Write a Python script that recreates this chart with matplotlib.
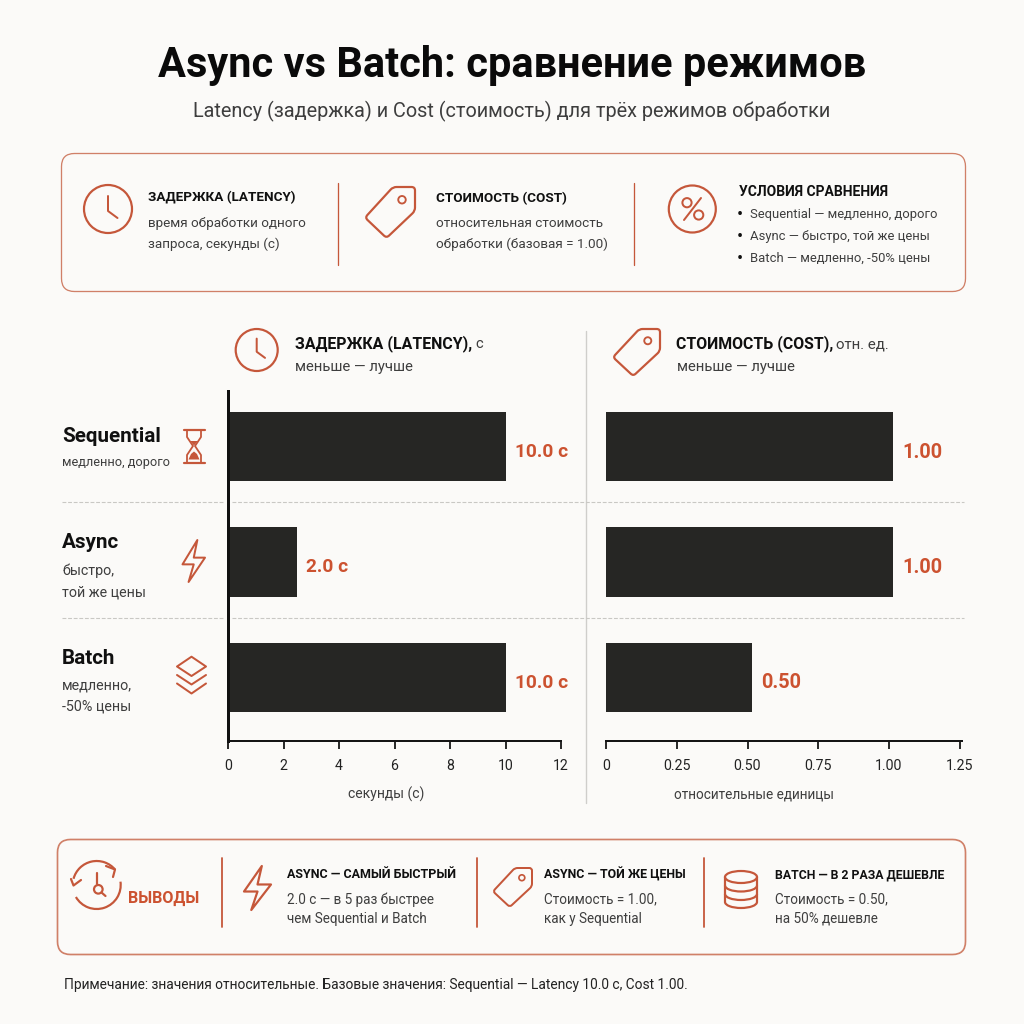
import numpy as np
import matplotlib
matplotlib.use("Agg")
import matplotlib.pyplot as plt
from matplotlib.patches import FancyBboxPatch, Circle, Ellipse, Polygon, Arc, PathPatch
from matplotlib.path import Path

# ---- data (bar lengths as drawn in the picture; printed labels are separate) ----
modes = ["Sequential", "Async", "Batch"]
mode_notes = [["медленно, дорого"], ["быстро,", "той же цены"], ["медленно,", "-50% цены"]]
latency_drawn = [10.02, 2.49, 10.02]
latency_labels = ["10.0 с", "2.0 с", "10.0 с"]
cost_drawn = [1.014, 1.014, 0.515]
cost_labels = ["1.00", "1.00", "0.50"]
latency_ticks = [0, 2, 4, 6, 8, 10, 12]
latency_ticklabels = ["0", "2", "4", "6", "8", "10", "12"]
cost_ticks = [0, 0.25, 0.50, 0.75, 1.00, 1.25]
cost_ticklabels = ["0", "0.25", "0.50", "0.75", "1.00", "1.25"]

BG = "#FBFAF8"
OR = "#C5573A"
ORT = "#CC5230"
PANEL = "#D08068"
BAR = "#262624"
INK = "#101010"
GREY = "#3E3E3E"
plt.rcParams["font.family"] = ["Roboto", "DejaVu Sans"]

fig = plt.figure(figsize=(10.24, 10.24), dpi=100, facecolor=BG)
bg = fig.add_axes([0, 0, 1, 1], zorder=0)
bg.set_xlim(0, 1024)
bg.set_ylim(1024, 0)
bg.axis("off")
PX = 0.72


def T(x, y, s, size, weight="normal", color=GREY, ha="left"):
    bg.text(x, y, s, fontsize=size, fontweight=weight, color=color, ha=ha, va="center_baseline")


def L(xs, ys, lw=2.0, color=OR, **kw):
    kw.setdefault("solid_capstyle", "round")
    kw.setdefault("solid_joinstyle", "round")
    bg.plot(xs, ys, color=color, lw=lw * PX, **kw)


def panel(x0, y0, x1, y1, lw):
    bg.add_patch(FancyBboxPatch((x0, y0), x1 - x0, y1 - y0,
                                boxstyle="round,pad=0,rounding_size=13",
                                fc="none", ec=PANEL, lw=lw * PX))


def clock(cx, cy, r):
    bg.add_patch(Circle((cx, cy), r, fc="none", ec=OR, lw=2.2 * PX))
    k = r / 24
    L([cx, cx, cx + 9.5 * k], [cy - 13 * k, cy + 2 * k, cy + 9 * k], 2.0)


def rounded(pts, rad):
    n = len(pts)
    verts, codes = [], []
    for i in range(n):
        p = np.array(pts[i], float)
        a = np.array(pts[i - 1], float)
        b = np.array(pts[(i + 1) % n], float)
        p1 = p + (a - p) / np.linalg.norm(a - p) * rad
        p2 = p + (b - p) / np.linalg.norm(b - p) * rad
        verts += [p1, p, p2]
        codes += [Path.MOVETO if i == 0 else Path.LINETO, Path.CURVE3, Path.CURVE3]
    verts.append(verts[0])
    codes.append(Path.CLOSEPOLY)
    return Path(verts, codes)


def tag(x0, y0, w, h, lw=2.2):
    rel = [(0, .6), (.56, 0), (1, 0), (1, .47), (.43, 1)]
    pts = [(x0 + a * w, y0 + b * h) for a, b in rel]
    bg.add_patch(PathPatch(rounded(pts, w * .07), fc="none", ec=OR, lw=lw * PX))
    bg.add_patch(Circle((x0 + .74 * w, y0 + .25 * h), .075 * w, fc="none", ec=OR, lw=lw * .85 * PX))


def bolt(x0, y0, w, h, lw=2.0):
    rel = [(.66, 0), (0, .58), (.5, .58), (.27, 1), (1, .42), (.5, .42)]
    pts = [(x0 + a * w, y0 + b * h) for a, b in rel]
    bg.add_patch(Polygon(pts, closed=True, fc="none", ec=OR, lw=lw * PX, joinstyle="round"))


# ---- title ----
T(512, 61, "Async vs Batch: сравнение режимов", 29.9, "bold", "#0A0A0A", "center")
T(512, 109, "Latency (задержка) и Cost (стоимость) для трёх режимов обработки", 14.3, "normal", GREY, "center")

# ---- top panel ----
panel(61.5, 153.5, 965.5, 291.5, 1.3)
L([337.5, 337.5], [183, 264.5], 1.3)
L([633.5, 633.5], [183, 265], 1.3)
clock(108, 209, 24)
tag(365, 187, 50, 51)
bg.add_patch(Circle((692.3, 209), 23.5, fc="none", ec=OR, lw=2.2 * PX))
bg.add_patch(Circle((687, 202.7), 4.6, fc="none", ec=OR, lw=2 * PX))
bg.add_patch(Circle((698.7, 215), 4.6, fc="none", ec=OR, lw=2 * PX))
L([701, 684], [198, 220], 2)

T(148, 196, "ЗАДЕРЖКА (LATENCY)", 9.7, "bold", INK)
T(148, 222, "время обработки одного", 9.7)
T(148, 243, "запроса, секунды (с)", 9.7)
T(436, 197, "СТОИМОСТЬ (COST)", 9.7, "bold", INK)
T(436, 222, "относительная стоимость", 9.7)
T(436, 243, "обработки (базовая = 1.00)", 9.7)
T(739, 190, "УСЛОВИЯ СРАВНЕНИЯ", 10, "bold", INK)
for yy, s in zip([213, 235, 257], ["Sequential — медленно, дорого", "Async — быстро, той же цены", "Batch — медленно, -50% цены"]):
    T(736.5, yy, "•", 13, "normal", INK)
    T(750, yy, s, 9.4)

# ---- chart headers ----
clock(256.7, 350, 21)
tag(613, 329, 47, 47)
T(295, 342, "ЗАДЕРЖКА (LATENCY),", 11.4, "bold", INK)
T(475, 343, "с", 10.6)
T(295, 366, "меньше — лучше", 10.7)
T(676, 342, "СТОИМОСТЬ (COST),", 11.4, "bold", INK)
T(836, 343, "отн. ед.", 10.8)
T(677, 366, "меньше — лучше", 10.7)

# ---- separators ----
L([585.7, 585.7], [331, 803], 1.4, color="#CFCECB")
for yy in (502, 618):
    L([62, 224], [yy, yy], 1.1, color="#C9C8C4", linestyle=(0, (3.5, 1.6)), dash_capstyle="butt")
    L([232, 964], [yy, yy], 1.1, color="#C9C8C4", linestyle=(0, (3.5, 1.6)), dash_capstyle="butt")

# ---- row labels ----
note_sizes = [9.2, 10.3, 10.3]
for name, y0, notes, ys, ns in zip(modes, [434, 540, 656], mode_notes, [[461], [569, 591], [684, 705]], note_sizes):
    T(62, y0, name, 14.9, "bold", INK)
    for yy, s in zip(ys, notes):
        T(62, yy, s, ns)

# hourglass
L([183.5, 205], [429.5, 429.5], 2.2)
L([183.5, 205], [462.5, 462.5], 2.2)
L([187, 187, 193, 187, 187], [430, 437, 446, 455, 462], 1.8)
L([201, 201, 195, 201, 201], [430, 437, 446, 455, 462], 1.8)
bg.add_patch(Polygon([(188.5, 459.5), (199.5, 459.5), (197, 454), (194, 451.5), (191, 454)], fc=OR, ec="none"))
bg.add_patch(Polygon([(190, 441), (198, 441), (194, 445.5)], fc=OR, ec="none"))
# bolt
bolt(182.5, 540, 22.5, 42)
# layers
bg.add_patch(Polygon([(191.5, 656.7), (206, 666.5), (191.5, 676), (177, 666.5)], fc="none", ec=OR, lw=2 * PX, joinstyle="round"))
L([177, 191.5, 206], [675, 684.5, 675], 2)
L([177, 191.5, 206], [683.5, 693.5, 683.5], 2)


# ---- bar charts ----
def bar_axes(left_px, right_px):
    top, bottom = 391, 741
    ax = fig.add_axes([left_px / 1024, 1 - bottom / 1024, (right_px - left_px) / 1024, (bottom - top) / 1024], zorder=2)
    ax.patch.set_alpha(0)
    ax.set_ylim(2 + (741 - 677.5) / 115.5, -(446.5 - 391) / 115.5)
    ax.set_yticks([])
    for s in ("top", "right", "left"):
        ax.spines[s].set_visible(False)
    ax.spines["bottom"].set_linewidth(2.0 * PX)
    ax.spines["bottom"].set_color("#151515")
    ax.tick_params(axis="x", length=8 * PX, width=1.8 * PX, color="#151515", labelsize=10.2, labelcolor="#222222", pad=7)
    return ax


ax1 = bar_axes(228, 561)
ax1.set_xlim(0, 12)
ax1.barh(range(3), latency_drawn, height=0.6, color=BAR)
ax1.set_xticks(latency_ticks, latency_ticklabels)
ax1.spines["left"].set_visible(True)
ax1.spines["left"].set_linewidth(3 * PX)
ax1.spines["left"].set_color("#111111")
for i, (v, s) in enumerate(zip(latency_drawn, latency_labels)):
    ax1.annotate(s, (v, i), xytext=(9 * PX, -5.5 * PX), textcoords="offset points", fontsize=13.8, fontweight="bold", color=ORT, va="center")

ax2 = bar_axes(606, 962)
ax2.set_xlim(0, 356 / 283)
ax2.barh(range(3), cost_drawn, height=0.6, color=BAR)
ax2.set_xticks(cost_ticks, cost_ticklabels)
for i, (v, s) in enumerate(zip(cost_drawn, cost_labels)):
    ax2.annotate(s, (v, i), xytext=(9 * PX, -5.5 * PX), textcoords="offset points", fontsize=14.4, fontweight="bold", color=ORT, va="center")

T(386, 793, "секунды (с)", 10, "normal", GREY, "center")
T(754, 793, "относительные единицы", 9.8, "normal", GREY, "center")

# ---- bottom panel ----
panel(57.5, 839.5, 965.5, 954.5, 1.7)
for xx in (222.3, 476.5, 703.5):
    L([xx, xx], [858, 927], 1.8)
# cycle icon
c = (96.7, 885)
bg.add_patch(Arc(c, 48, 48, theta1=195, theta2=320, color=OR, lw=2.2 * PX))
bg.add_patch(Arc(c, 48, 48, theta1=-8, theta2=150, color=OR, lw=2.2 * PX))
L([71, 73.5, 81], [879, 885.5, 880], 2.2)
L([106, 115, 113], [866, 869.5, 877], 2.2)
L([96.7, 96.7], [873, 884], 2.2)
bg.add_patch(Circle((98.3, 889.3), 4.3, fc="none", ec=OR, lw=2.2 * PX))
L([101.5, 105.5], [892.5, 896], 2.2)
T(128, 897, "ВЫВОДЫ", 11.5, "bold", ORT)

bolt(244, 866, 27, 44, 2.2)
tag(493, 868, 39, 39, 2.0)
# database icon
bg.add_patch(Ellipse((741, 877), 32, 12, fc="none", ec=OR, lw=2.2 * PX))
L([725, 725], [877, 902], 2.2)
L([757, 757], [877, 902], 2.2)
for yy in (885.5, 894, 902):
    bg.add_patch(Arc((741, yy), 32, 12, theta1=0, theta2=180, color=OR, lw=2.2 * PX))

T(287, 873, "ASYNC — САМЫЙ БЫСТРЫЙ", 9.0, "bold", INK)
T(287, 898, "2.0 с — в 5 раз быстрее", 9.75)
T(287, 917, "чем Sequential и Batch", 9.75)
T(544, 873, "ASYNC — ТОЙ ЖЕ ЦЕНЫ", 8.95, "bold", INK)
T(544, 898, "Стоимость = 1.00,", 9.75)
T(544, 917, "как у Sequential", 9.75)
T(775, 873, "BATCH — В 2 РАЗА ДЕШЕВЛЕ", 8.85, "bold", INK)
T(775, 898, "Стоимость = 0.50,", 9.75)
T(775, 917, "на 50% дешевле", 9.75)

T(64, 983, "Примечание: значения относительные. Базовые значения: Sequential — Latency 10.0 с, Cost 1.00.", 9.9, "normal", "#222222")

fig.savefig("out.png", dpi=100, facecolor=BG)
